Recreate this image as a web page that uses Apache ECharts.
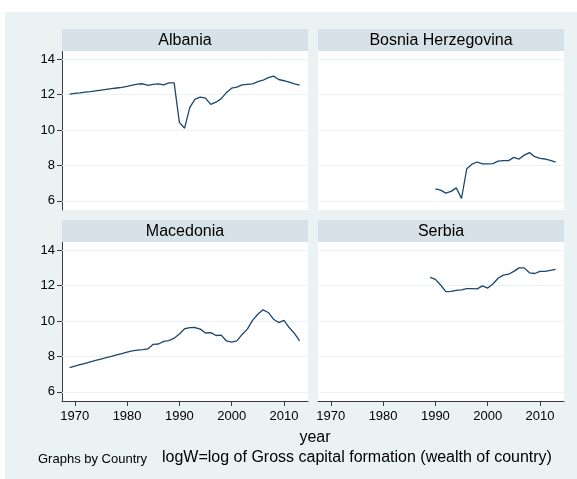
<!DOCTYPE html>
<html>
<head>
<meta charset="utf-8">
<script src="https://cdn.jsdelivr.net/npm/echarts@6/dist/echarts.min.js"></script>
<style>
html,body{margin:0;padding:0;background:#fff;}
#c{width:577px;height:479px;}
</style>
</head>
<body>
<div id="c"></div>
<script>
const panelNames = ['Albania', 'Bosnia Herzegovina', 'Macedonia', 'Serbia'];
const xTicks = [1970, 1980, 1990, 2000, 2010];
const yTicks = [6, 8, 10, 12, 14];

const albaniaYears = [1969,1970,1971,1972,1973,1974,1975,1976,1977,1978,1979,1980,1981,1982,1983,1984,1985,1986,1987,1988,1989,1990,1991,1992,1993,1994,1995,1996,1997,1998,1999,2000,2001,2002,2003,2004,2005,2006,2007,2008,2009,2010,2011,2012,2013];
const albania = [12.03,12.07,12.10,12.14,12.17,12.21,12.25,12.29,12.33,12.37,12.41,12.46,12.53,12.59,12.61,12.52,12.57,12.60,12.55,12.66,12.66,10.43,10.10,11.28,11.74,11.85,11.80,11.45,11.57,11.77,12.11,12.36,12.42,12.55,12.58,12.60,12.73,12.81,12.96,13.04,12.85,12.78,12.70,12.60,12.53];

const bosniaYears = [1990,1991,1992,1993,1994,1995,1996,1997,1998,1999,2000,2001,2002,2003,2004,2005,2006,2007,2008,2009,2010,2011,2012,2013];
const bosnia = [6.68,6.60,6.43,6.53,6.73,6.13,7.81,8.07,8.19,8.09,8.09,8.10,8.24,8.27,8.27,8.45,8.36,8.58,8.72,8.49,8.40,8.36,8.28,8.19];

const macedoniaYears = albaniaYears;
const macedonia = [7.37,7.45,7.53,7.61,7.69,7.77,7.85,7.93,8.00,8.08,8.16,8.24,8.31,8.35,8.38,8.43,8.68,8.70,8.85,8.89,9.03,9.26,9.56,9.62,9.63,9.54,9.32,9.34,9.18,9.20,8.87,8.81,8.88,9.24,9.54,10.03,10.38,10.63,10.48,10.10,9.91,10.03,9.63,9.30,8.87];

const serbiaYears = [1989,1990,1991,1992,1993,1994,1995,1996,1997,1998,1999,2000,2001,2002,2003,2004,2005,2006,2007,2008,2009,2010,2011,2012,2013];
const serbia = [12.46,12.35,12.03,11.66,11.67,11.73,11.76,11.83,11.83,11.81,11.98,11.86,12.09,12.41,12.59,12.64,12.80,13.00,13.00,12.72,12.68,12.80,12.80,12.86,12.91];

const seriesYears = [albaniaYears, bosniaYears, macedoniaYears, serbiaYears];
const seriesVals = [albania, bosnia, macedonia, serbia];

const BG = '#eaf2f3', STRIP = '#d6e2e7', GRID = '#eaf2f3', LINE = '#1a476f', AX = '#3a3a3a';
const FONT = '"Liberation Sans", Arial, sans-serif';

const grids = [
  {left: 62, top: 51, width: 246, height: 159},
  {left: 318, top: 51, width: 246, height: 159},
  {left: 62, top: 242, width: 246, height: 159},
  {left: 318, top: 242, width: 246, height: 159}
];

const chart = echarts.init(document.getElementById('c'), null, {renderer: 'canvas'});

const xAxes = grids.map((g, i) => {
  const bottom = i >= 2;
  return {
    type: 'value', gridIndex: i, min: 1967.55, max: 2014.6,
    axisLine: {show: bottom, onZero: false, lineStyle: {color: AX, width: 1}},
    axisTick: {show: bottom, length: 5, lineStyle: {color: AX}, customValues: xTicks},
    axisLabel: {show: bottom, margin: 9, color: '#000', fontSize: 13, fontFamily: FONT, customValues: xTicks,
      formatter: v => String(v)},
    splitLine: {show: false}
  };
});
const yAxes = grids.map((g, i) => {
  const left = (i % 2) === 0;
  return {
    type: 'value', gridIndex: i, min: 5.48, max: 14.46,
    axisLine: {show: left, onZero: false, lineStyle: {color: AX, width: 1}},
    axisTick: {show: left, length: 5, lineStyle: {color: AX}, customValues: yTicks},
    axisLabel: {show: left, margin: 7, color: '#000', fontSize: 13, fontFamily: FONT, customValues: yTicks,
      formatter: v => String(v)},
    splitLine: {show: false}
  };
});

const series = [];
grids.forEach((g, i) => {
  series.push({
    type: 'line', xAxisIndex: i, yAxisIndex: i, data: [], z: 1, silent: true,
    markLine: {
      silent: true, symbol: 'none', label: {show: false}, animation: false,
      lineStyle: {color: GRID, width: 1.2, type: 'solid'},
      data: yTicks.map(v => ({yAxis: v}))
    }
  });
  series.push({
    type: 'line', name: panelNames[i], xAxisIndex: i, yAxisIndex: i, z: 5,
    showSymbol: false, symbol: 'none', animation: false,
    lineStyle: {color: LINE, width: 1.3},
    data: seriesYears[i].map((y, k) => [y, seriesVals[i][k]])
  });
});

const graphic = [
  {type: 'rect', shape: {x: 0, y: 0, width: 577, height: 12}, style: {fill: '#fff'}, z: -1},
  {type: 'rect', shape: {x: 0, y: 0, width: 5, height: 479}, style: {fill: '#fff'}, z: -1}
];
grids.forEach((g, i) => {
  const top = g.top - 22;
  graphic.push({type: 'rect', shape: {x: g.left, y: top, width: g.width, height: 22}, style: {fill: STRIP}, z: 1});
  graphic.push({type: 'text', x: g.left + g.width / 2, y: top + 11.5, z: 2,
    style: {text: panelNames[i], fill: '#000', font: '16px ' + FONT, align: 'center', verticalAlign: 'middle'}});
});
graphic.push({type: 'text', x: 315, y: 438, style: {text: 'year', fill: '#000', font: '16px ' + FONT, align: 'center', verticalAlign: 'middle'}});
graphic.push({type: 'text', x: 38, y: 459, style: {text: 'Graphs by Country', fill: '#000', font: '13px ' + FONT, align: 'left', verticalAlign: 'middle'}});
graphic.push({type: 'text', x: 162, y: 458, style: {text: 'logW=log of Gross capital formation (wealth of country)', fill: '#000', font: '16px ' + FONT, align: 'left', verticalAlign: 'middle'}});

chart.setOption({
  backgroundColor: BG,
  animation: false,
  grid: grids.map(g => Object.assign({show: true, backgroundColor: '#fff', borderWidth: 0, containLabel: false}, g)),
  xAxis: xAxes,
  yAxis: yAxes,
  series: series,
  graphic: graphic
});
</script>
</body>
</html>
